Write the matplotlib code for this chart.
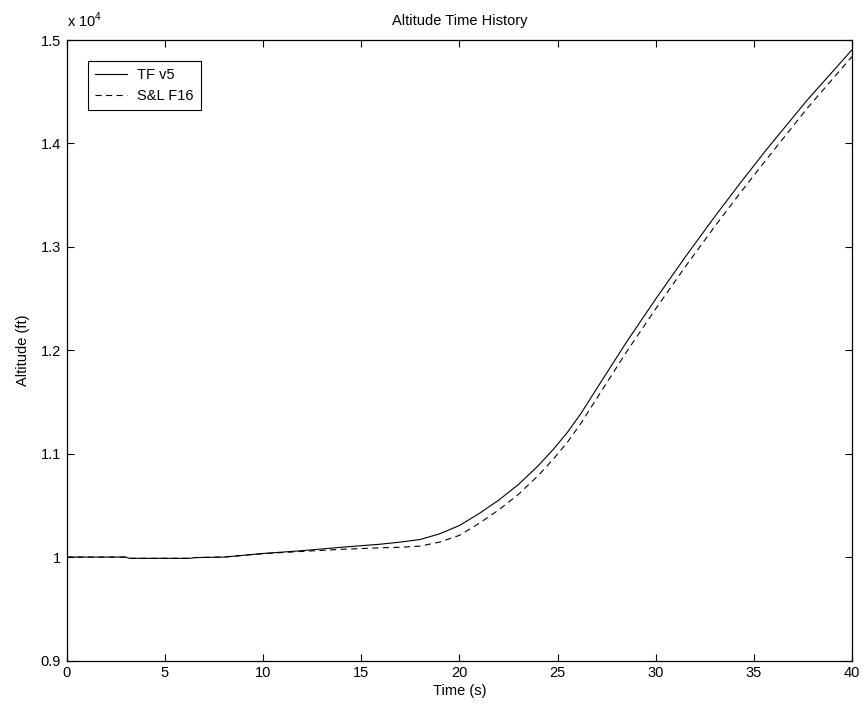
import matplotlib
matplotlib.use("Agg")
import matplotlib.pyplot as plt
from matplotlib.ticker import FuncFormatter, MultipleLocator

plt.rcParams['font.family'] = ['Liberation Sans', 'DejaVu Sans']
plt.rcParams['mathtext.fontset'] = 'custom'
plt.rcParams['mathtext.rm'] = 'Liberation Sans'

# Data (time in s, altitude in ft)
t_tf = [0, 3, 3.2, 6.3, 6.5, 8, 10, 12, 14, 16, 17, 18, 19, 20, 21, 22, 23, 24,
        24.8, 25.5, 26.2, 27, 28.5, 30, 31.5, 33, 34.3, 35.6, 37.7, 40]
alt_tf = [10000, 10000, 9988, 9988, 9995, 10000, 10035, 10062, 10095, 10125,
          10145, 10170, 10225, 10305, 10420, 10550, 10700, 10880,
          11045, 11205, 11390, 11630, 12075, 12495, 12900, 13290, 13615, 13930,
          14415, 14905]

t_sl = [0, 3, 3.2, 6.3, 6.5, 8, 10, 12, 14, 16, 17, 18, 19, 20, 21, 22, 23, 24,
        24.8, 25.5, 26.2, 27, 28.5, 30, 31.5, 33, 34.3, 35.6, 37.7, 40]
alt_sl = [10000, 10000, 9988, 9988, 9995, 10000, 10033, 10055, 10075, 10090,
          10095, 10106, 10145, 10210, 10325, 10455, 10605, 10785,
          10950, 11110, 11295, 11535, 11980, 12400, 12805, 13195, 13520, 13835,
          14335, 14840]

labels = ["TF v5", "S&L F16"]
title = "Altitude Time History"
xlabel = "Time (s)"
ylabel = "Altitude (ft)"

W, H = 865, 711
fig = plt.figure(figsize=(W / 100, H / 100), dpi=100)
l, r, b, tp = 66.7, 852, 660.5, 40
ax = fig.add_axes([l / W, (H - b) / H, (r - l) / W, (b - tp) / H])

ax.plot(t_tf, alt_tf, color='black', lw=0.8, label=labels[0])
ax.plot(t_sl, alt_sl, color='black', lw=0.8, linestyle=(0, (5.5, 4)), label=labels[1])

ax.set_xlim(0, 40)
ax.set_ylim(9000, 15000)
ax.xaxis.set_major_locator(MultipleLocator(5))
ax.yaxis.set_major_locator(MultipleLocator(1000))
ax.yaxis.set_major_formatter(FuncFormatter(lambda v, p: f"{v/1e4:g}"))

ax.tick_params(direction='in', length=5, width=0.8, top=True, right=True,
               labelsize=10.5, pad=4)
for s in ax.spines.values():
    s.set_linewidth(0.9)

ax.set_title(title, fontsize=10.5, pad=11)
ax.set_xlabel(xlabel, fontsize=10.5, labelpad=3)
ax.set_ylabel(ylabel, fontsize=10.5, labelpad=8)
ax.text(0, 1 + 10 / 620, r"x 10$^{4}$", transform=ax.transAxes,
        ha='left', va='bottom', fontsize=10.5)

leg = ax.legend(loc='upper left', bbox_to_anchor=(21 / 785.3, 1 - 21 / 620),
                borderaxespad=0, fancybox=False, framealpha=1, edgecolor='black',
                fontsize=10.5, handlelength=2.2, handletextpad=0.7,
                borderpad=0.5, labelspacing=0.45)
leg.get_frame().set_linewidth(0.8)

fig.savefig("out.png", dpi=100)
